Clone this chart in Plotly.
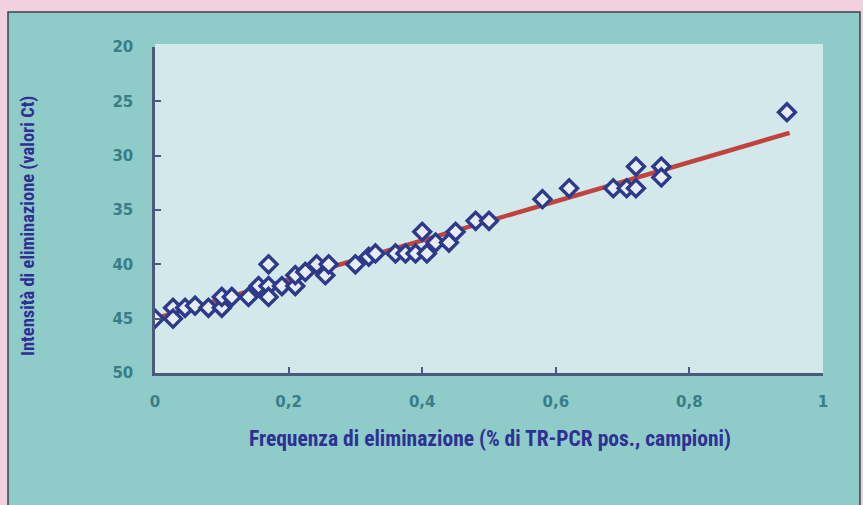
import plotly.graph_objects as go

# Data
freq = [0, 0.027, 0.027, 0.045, 0.06, 0.08, 0.10, 0.10, 0.115, 0.14, 0.155,
        0.17, 0.17, 0.17, 0.19, 0.21, 0.21, 0.225, 0.242, 0.255, 0.26, 0.30,
        0.32, 0.33, 0.36, 0.375, 0.39, 0.40, 0.407, 0.42, 0.44, 0.45, 0.48,
        0.50, 0.58, 0.62, 0.686, 0.706, 0.72, 0.72, 0.758, 0.758, 0.946]
ct = [45, 44, 45, 44, 43.8, 44, 44, 43, 43, 43, 42,
      40, 42, 43, 42, 42, 41, 40.7, 40, 41, 40, 40,
      39.3, 39, 39, 39, 39, 37, 39, 38, 38, 37, 36,
      36, 34, 33, 33, 33, 33, 31, 31, 32, 26]

fit_x = [0, 0.95]
fit_y = [45, 27.9]

x_ticks = [0, 0.2, 0.4, 0.6, 0.8, 1]
x_ticktext = ["0", "0,2", "0,4", "0,6", "0,8", "1"]
y_ticks = [20, 25, 30, 35, 40, 45, 50]
y_ticktext = ["20", "25", "30", "35", "40", "45", "50"]

W, H = 863, 505
L, R, T, B = 155, 40, 47, 132
pw, ph = W - L - R, H - T - B

def px_x(p):
    return (p - L) / pw

def px_y(p):
    return (H - B - p) / ph

fig = go.Figure()
fig.add_trace(go.Scatter(x=fit_x, y=fit_y, mode="lines",
                         line=dict(color="#c0443e", width=4.5),
                         hoverinfo="skip", showlegend=False))
fig.add_trace(go.Scatter(x=freq, y=ct, mode="markers",
                         marker=dict(symbol="diamond", size=13, color="#e6eef4",
                                     line=dict(color="#2d3a8c", width=3.4)),
                         showlegend=False))

title_font = "Liberation Sans Narrow, Roboto Condensed, Liberation Sans, Arial Narrow, sans-serif"
tick_font = dict(family="DejaVu Sans, Verdana, sans-serif", size=15, color="#3a7d88")

fig.update_layout(
    width=W, height=H,
    margin=dict(l=L, r=R, t=T, b=B, pad=0),
    paper_bgcolor="#f2d0e0",
    plot_bgcolor="#d3e8ea",
    xaxis=dict(range=[0, 1], tickvals=x_ticks,
               ticktext=["<b>%s</b>" % t for t in x_ticktext],
               ticks="inside", ticklen=6, tickwidth=2, tickcolor="#4c5b7c",
               showline=True, linecolor="#4c5b7c", linewidth=2.5,
               showgrid=False, zeroline=False, tickfont=tick_font,
               ticklabelstandoff=13),
    yaxis=dict(range=[50, 20], tickvals=y_ticks,
               ticktext=["<b>%s</b>" % t for t in y_ticktext],
               ticks="inside", ticklen=6, tickwidth=2, tickcolor="#4c5b7c",
               showline=True, linecolor="#4c5b7c", linewidth=2.5,
               showgrid=False, zeroline=False, tickfont=tick_font,
               ticklabelstandoff=16),
    shapes=[
        dict(type="rect", xref="paper", yref="paper", layer="below",
             x0=px_x(8), x1=px_x(860), y0=px_y(520), y1=px_y(12),
             fillcolor="#8ecbc9", line=dict(color="#3b4446", width=1.5)),
        dict(type="rect", xref="paper", yref="paper", layer="below",
             x0=0, x1=1, y0=0, y1=px_y(44),
             fillcolor="#d3e8ea", line=dict(width=0)),
    ],
    annotations=[
        dict(text="<b>Frequenza di eliminazione (% di TR-PCR pos., campioni)</b>",
             xref="paper", yref="paper", x=px_x(490), y=px_y(438),
             xanchor="center", yanchor="middle", showarrow=False,
             font=dict(family=title_font, size=21.5, color="#2e3192")),
        dict(text="<b>Intensità di eliminazione (valori Ct)</b>",
             xref="paper", yref="paper", x=px_x(28), y=px_y(226),
             xanchor="center", yanchor="middle", showarrow=False, textangle=-90,
             font=dict(family=title_font, size=18.5, color="#2e3192")),
    ],
)

fig.write_html("out.html")
